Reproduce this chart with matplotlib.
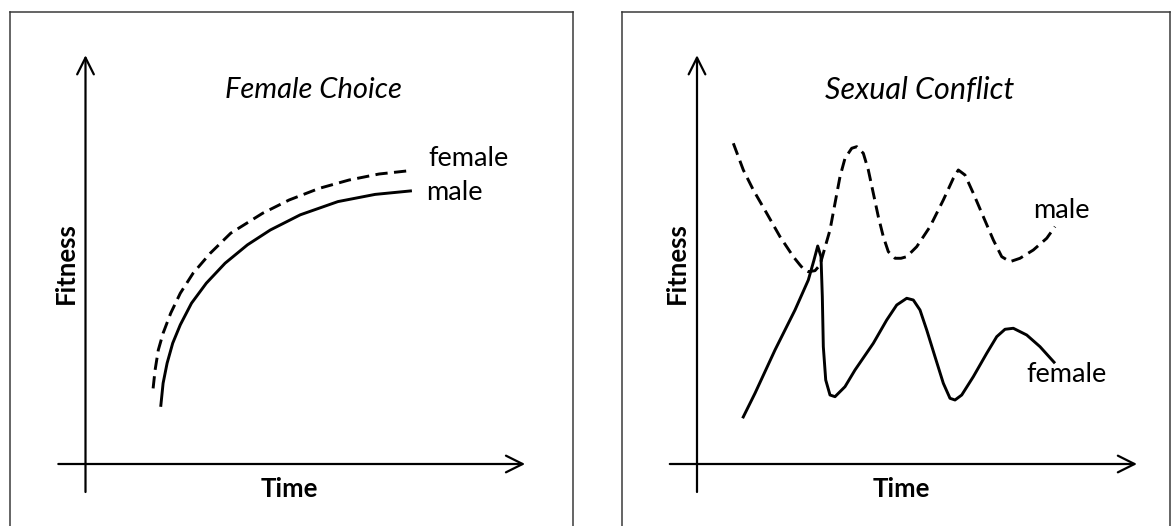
import matplotlib
matplotlib.use("Agg")
import matplotlib.pyplot as plt

# ---------------- data (time, fitness) in arbitrary units ----------------
# Left panel: Female Choice
fc_male_t = [1.88, 1.94, 2.04, 2.18, 2.37, 2.65, 3.02, 3.49, 4.05, 4.62, 5.37, 6.31, 7.24, 8.16]
fc_male_f = [1.43, 2.02, 2.52, 3.02, 3.48, 4.02, 4.52, 5.02, 5.48, 5.85, 6.23, 6.56, 6.74, 6.83]
fc_female_t = [1.69, 1.74, 1.82, 1.94, 2.13, 2.37, 2.69, 3.12, 3.63, 4.43, 5.09, 5.84, 6.59, 7.34, 8.07]
fc_female_f = [1.89, 2.35, 2.85, 3.27, 3.77, 4.27, 4.77, 5.27, 5.77, 6.27, 6.60, 6.89, 7.10, 7.25, 7.33]

# Right panel: Sexual Conflict
sc_male_t = [0.908, 1.158, 1.408, 1.743, 2.075, 2.408, 2.575, 2.675, 2.783, 2.95, 3.075, 3.158,
             3.325, 3.45, 3.575, 3.70, 3.868, 3.993, 4.158, 4.283, 4.408, 4.533, 4.658, 4.783,
             4.95, 5.10, 5.243, 5.493, 5.825, 6.158, 6.408, 6.533, 6.70, 6.908, 7.158, 7.408,
             7.618, 7.825, 8.075, 8.408, 8.743, 8.95]
sc_male_f = [8.018, 7.35, 6.85, 6.268, 5.683, 5.183, 4.975, 4.86, 4.808, 4.833, 4.975, 5.268,
             5.85, 6.518, 7.183, 7.643, 7.893, 7.933, 7.768, 7.35, 6.768, 6.183, 5.683, 5.308,
             5.143, 5.143, 5.183, 5.433, 5.933, 6.60, 7.143, 7.35, 7.225, 6.768, 6.183, 5.60,
             5.183, 5.058, 5.143, 5.35, 5.643, 5.933]
sc_female_t = [1.14, 1.45, 1.95, 2.45, 2.783, 2.925, 3.018, 3.10, 3.133, 3.158, 3.218, 3.325,
               3.45, 3.70, 3.95, 4.408, 4.743, 4.993, 5.243, 5.408, 5.575, 5.743, 5.95, 6.158,
               6.325, 6.45, 6.618, 6.908, 7.243, 7.493, 7.70, 7.908, 8.243, 8.575, 8.95]
sc_female_f = [1.143, 1.768, 2.85, 3.85, 4.60, 5.10, 5.45, 5.183, 4.183, 2.933, 2.10, 1.725,
               1.683, 1.933, 2.35, 3.018, 3.60, 3.975, 4.143, 4.10, 3.85, 3.35, 2.683, 2.018,
               1.643, 1.60, 1.725, 2.183, 2.768, 3.183, 3.368, 3.393, 3.225, 2.933, 2.518]

titles = ["Female Choice", "Sexual Conflict"]
x_label = "Time"
y_label = "Fitness"

# ---------------- figure ----------------
W, H = 1174, 526
fig = plt.figure(figsize=(W / 100, H / 100), dpi=100)
FONT = "Lato"
LW = 2.1
DASH = (4.2, 2.2)

def make_panel(px_left, px_right, origin_x, origin_y=464, scale=40.0):
    ax = fig.add_axes([px_left / W, 0, (px_right - px_left) / W, (H - 12) / H])
    ax.set_xlim((px_left - origin_x) / scale, (px_right - origin_x) / scale)
    ax.set_ylim((origin_y - H) / scale, (origin_y - 12) / scale)
    ax.set_xticks([]); ax.set_yticks([])
    for s in ["left", "right", "top"]:
        ax.spines[s].set_color("#3a3a3a")
        ax.spines[s].set_linewidth(1.1)
    ax.spines["bottom"].set_visible(False)
    return ax

def draw_axes_arrows(ax, x_end):
    ap = dict(arrowstyle="->", lw=1.6, color="black", mutation_scale=30,
              shrinkA=0, shrinkB=0)
    ax.annotate("", xy=(0, 10.22), xytext=(0, -0.7), arrowprops=ap)
    ax.annotate("", xy=(x_end, 0), xytext=(-0.68, 0), arrowprops=ap)
    ax.text(-0.5, 5.03, y_label, rotation=90, ha="center", va="center",
            fontsize=18.5, fontweight="bold", family=FONT)
    ax.text(5.1, -0.63, x_label, ha="center", va="center",
            fontsize=18.5, fontweight="bold", family=FONT)

# Left panel
ax1 = make_panel(10, 573, 85.5)
draw_axes_arrows(ax1, 10.99)
ax1.plot(fc_male_t, fc_male_f, color="black", lw=LW, solid_capstyle="butt",
         solid_joinstyle="round")
ax1.plot(fc_female_t, fc_female_f, color="black", lw=LW, dashes=DASH)
ax1.text(5.70, 9.35, titles[0], ha="center", va="center", fontsize=21,
         style="italic", family=FONT)
ax1.text(8.56, 7.63, "female", ha="left", va="center", fontsize=19.5, family=FONT)
ax1.text(8.51, 6.80, "male", ha="left", va="center", fontsize=19.5, family=FONT)

# Right panel
ax2 = make_panel(622, 1170, 697)
draw_axes_arrows(ax2, 11.0)
ax2.plot(sc_female_t, sc_female_f, color="black", lw=LW, solid_capstyle="butt",
         solid_joinstyle="round")
ax2.plot(sc_male_t, sc_male_f, color="black", lw=LW, dashes=DASH)
ax2.text(5.57, 9.35, titles[1], ha="center", va="center", fontsize=22,
         style="italic", family=FONT)
ax2.text(8.40, 6.33, "male", ha="left", va="center", fontsize=19.5, family=FONT)
ax2.text(8.23, 2.25, "female", ha="left", va="center", fontsize=19.5, family=FONT)

fig.savefig("out.png", dpi=100)
